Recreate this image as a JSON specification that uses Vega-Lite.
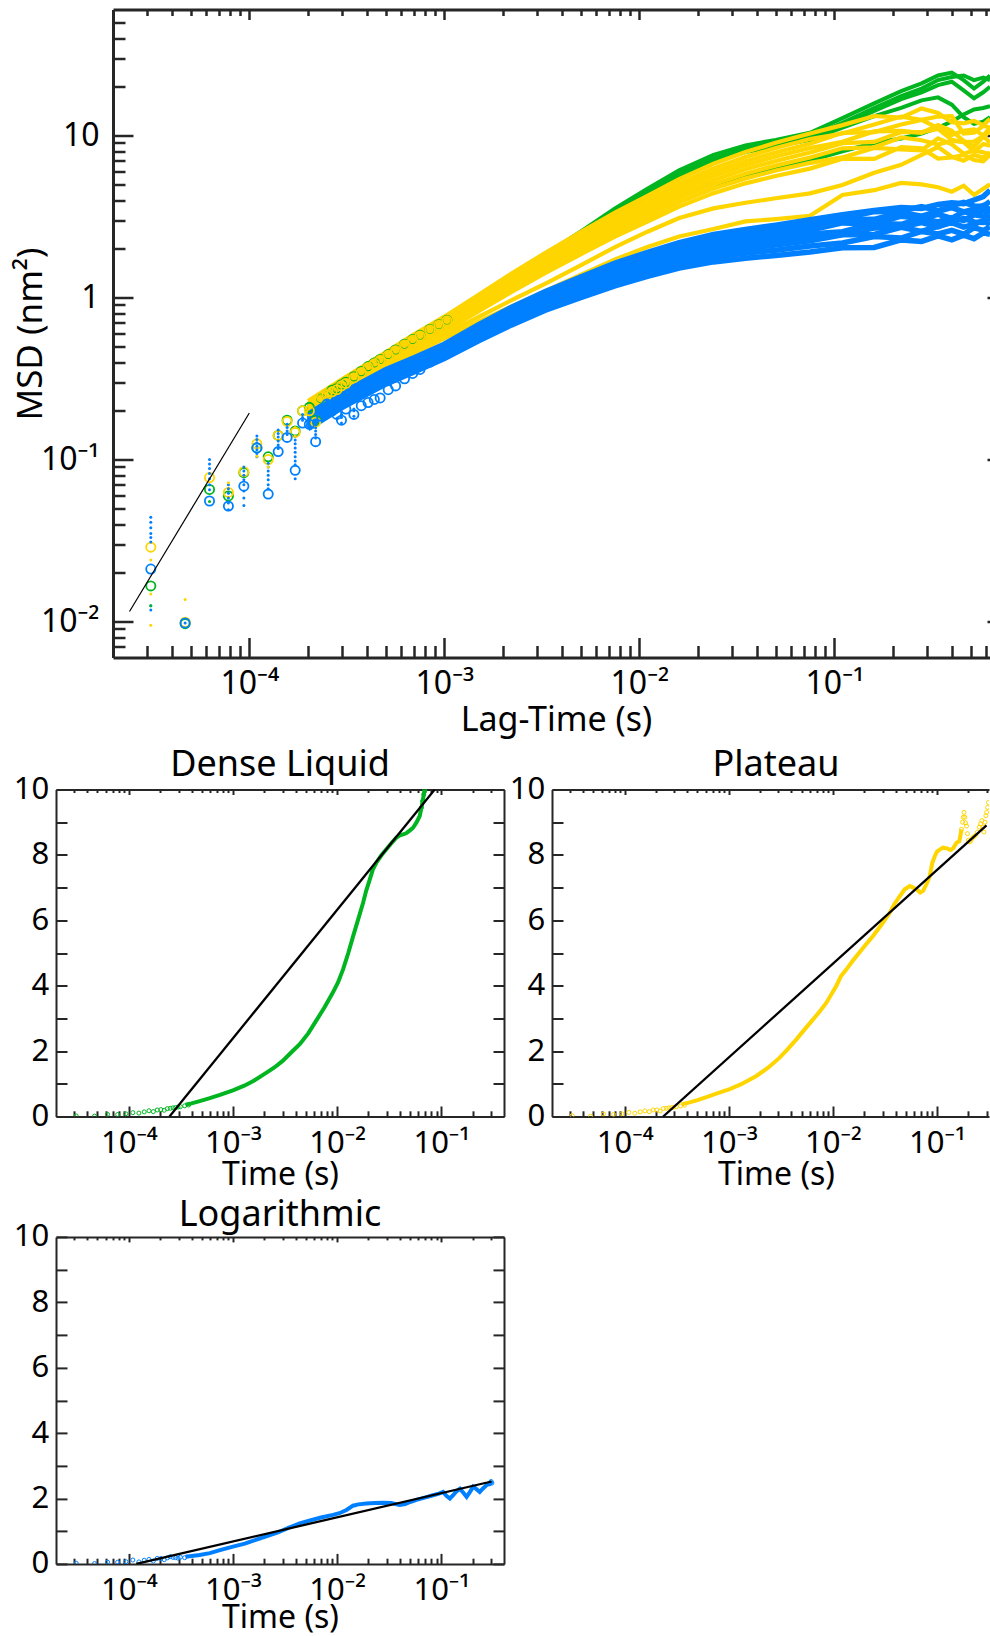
{
"$schema":"https://vega.github.io/schema/vega-lite/v6.json",
"padding":{"left":13,"top":7.5,"right":0,"bottom":0},
"background":"white",
"spacing":8,
"config":{"view":{"stroke":null},"font":"Noto Sans",
"axis":{"grid":false,"domainColor":"#262626","tickColor":"#262626","labelColor":"#000","titleColor":"#000","labelFont":"Noto Sans","titleFont":"Noto Sans","titleFontWeight":"normal","labelFlush":false,"labelOverlap":false},
"title":{"font":"Noto Sans","fontWeight":"normal","color":"#000"}},
"datasets":{
"tg":[
{"id":"g1","t":0.0002,"v":0.215},{"id":"g1","t":0.0003,"v":0.296},{"id":"g1","t":0.0005,"v":0.435},{"id":"g1","t":0.0007,"v":0.565},{"id":"g1","t":0.001,"v":0.73},{"id":"g1","t":0.0015,"v":1.0},{"id":"g1","t":0.0022,"v":1.36},{"id":"g1","t":0.0033,"v":1.85},{"id":"g1","t":0.005,"v":2.55},{"id":"g1","t":0.0075,"v":3.55},{"id":"g1","t":0.011,"v":4.7},{"id":"g1","t":0.016,"v":6.1},{"id":"g1","t":0.024,"v":7.6},{"id":"g1","t":0.035,"v":8.7},{"id":"g1","t":0.05,"v":9.4},{"id":"g1","t":0.075,"v":10.4},{"id":"g1","t":0.11,"v":12.8},{"id":"g1","t":0.16,"v":15.8},{"id":"g1","t":0.22,"v":18.8},{"id":"g1","t":0.28,"v":21.0},{"id":"g1","t":0.34,"v":23.5},{"id":"g1","t":0.4,"v":24.5},{"id":"g1","t":0.46,"v":22.0},{"id":"g1","t":0.52,"v":19.5},{"id":"g1","t":0.58,"v":21.5},{"id":"g1","t":0.628,"v":23.5},
{"id":"g2","t":0.0002,"v":0.21},{"id":"g2","t":0.0003,"v":0.29},{"id":"g2","t":0.0005,"v":0.425},{"id":"g2","t":0.0007,"v":0.55},{"id":"g2","t":0.001,"v":0.71},{"id":"g2","t":0.0015,"v":0.97},{"id":"g2","t":0.0022,"v":1.31},{"id":"g2","t":0.0033,"v":1.78},{"id":"g2","t":0.005,"v":2.45},{"id":"g2","t":0.0075,"v":3.4},{"id":"g2","t":0.011,"v":4.45},{"id":"g2","t":0.016,"v":5.8},{"id":"g2","t":0.024,"v":7.2},{"id":"g2","t":0.035,"v":8.3},{"id":"g2","t":0.05,"v":9.0},{"id":"g2","t":0.075,"v":9.9},{"id":"g2","t":0.11,"v":12.0},{"id":"g2","t":0.16,"v":14.8},{"id":"g2","t":0.22,"v":17.5},{"id":"g2","t":0.28,"v":19.5},{"id":"g2","t":0.34,"v":22.0},{"id":"g2","t":0.4,"v":23.0},{"id":"g2","t":0.46,"v":23.5},{"id":"g2","t":0.52,"v":22.0},{"id":"g2","t":0.58,"v":22.8},{"id":"g2","t":0.628,"v":22.0},
{"id":"g3","t":0.0002,"v":0.205},{"id":"g3","t":0.0003,"v":0.283},{"id":"g3","t":0.0005,"v":0.415},{"id":"g3","t":0.0007,"v":0.535},{"id":"g3","t":0.001,"v":0.69},{"id":"g3","t":0.0015,"v":0.94},{"id":"g3","t":0.0022,"v":1.27},{"id":"g3","t":0.0033,"v":1.72},{"id":"g3","t":0.005,"v":2.35},{"id":"g3","t":0.0075,"v":3.25},{"id":"g3","t":0.011,"v":4.25},{"id":"g3","t":0.016,"v":5.5},{"id":"g3","t":0.024,"v":6.85},{"id":"g3","t":0.035,"v":7.9},{"id":"g3","t":0.05,"v":8.6},{"id":"g3","t":0.075,"v":9.4},{"id":"g3","t":0.11,"v":11.2},{"id":"g3","t":0.16,"v":13.2},{"id":"g3","t":0.22,"v":14.8},{"id":"g3","t":0.28,"v":16.5},{"id":"g3","t":0.34,"v":17.2},{"id":"g3","t":0.4,"v":15.5},{"id":"g3","t":0.46,"v":13.0},{"id":"g3","t":0.52,"v":11.8},{"id":"g3","t":0.58,"v":12.2},{"id":"g3","t":0.628,"v":13.0},
{"id":"g4","t":0.0002,"v":0.2},{"id":"g4","t":0.0003,"v":0.275},{"id":"g4","t":0.0005,"v":0.4},{"id":"g4","t":0.0007,"v":0.515},{"id":"g4","t":0.001,"v":0.66},{"id":"g4","t":0.0015,"v":0.89},{"id":"g4","t":0.0022,"v":1.19},{"id":"g4","t":0.0033,"v":1.6},{"id":"g4","t":0.005,"v":2.13},{"id":"g4","t":0.0075,"v":2.75},{"id":"g4","t":0.011,"v":3.4},{"id":"g4","t":0.016,"v":4.3},{"id":"g4","t":0.024,"v":5.0},{"id":"g4","t":0.035,"v":5.6},{"id":"g4","t":0.05,"v":6.2},{"id":"g4","t":0.075,"v":7.0},{"id":"g4","t":0.11,"v":8.0},{"id":"g4","t":0.16,"v":9.0},{"id":"g4","t":0.22,"v":9.6},{"id":"g4","t":0.28,"v":10.3},{"id":"g4","t":0.34,"v":11.2},{"id":"g4","t":0.4,"v":12.2},{"id":"g4","t":0.46,"v":13.5},{"id":"g4","t":0.52,"v":14.5},{"id":"g4","t":0.58,"v":14.8},{"id":"g4","t":0.628,"v":15.2},
{"id":"g5","t":0.0002,"v":0.207},{"id":"g5","t":0.0003,"v":0.287},{"id":"g5","t":0.0005,"v":0.42},{"id":"g5","t":0.0007,"v":0.545},{"id":"g5","t":0.001,"v":0.70},{"id":"g5","t":0.0015,"v":0.955},{"id":"g5","t":0.0022,"v":1.29},{"id":"g5","t":0.0033,"v":1.75},{"id":"g5","t":0.005,"v":2.4},{"id":"g5","t":0.0075,"v":3.32},{"id":"g5","t":0.011,"v":4.35},{"id":"g5","t":0.016,"v":5.65},{"id":"g5","t":0.024,"v":7.0},{"id":"g5","t":0.035,"v":8.1},{"id":"g5","t":0.05,"v":8.8},{"id":"g5","t":0.075,"v":9.7},{"id":"g5","t":0.11,"v":11.6},{"id":"g5","t":0.16,"v":14.2},{"id":"g5","t":0.22,"v":16.8},{"id":"g5","t":0.28,"v":18.5},{"id":"g5","t":0.34,"v":20.5},{"id":"g5","t":0.4,"v":21.5},{"id":"g5","t":0.46,"v":19.0},{"id":"g5","t":0.52,"v":17.0},{"id":"g5","t":0.58,"v":18.5},{"id":"g5","t":0.628,"v":20.0}
],
"ty":[
{"id":"y1","t":0.0002,"v":0.23},{"id":"y1","t":0.0003,"v":0.314},{"id":"y1","t":0.0005,"v":0.459},{"id":"y1","t":0.0007,"v":0.594},{"id":"y1","t":0.001,"v":0.762},{"id":"y1","t":0.0015,"v":1.04},{"id":"y1","t":0.0022,"v":1.4},{"id":"y1","t":0.0033,"v":1.89},{"id":"y1","t":0.005,"v":2.54},{"id":"y1","t":0.0075,"v":3.35},{"id":"y1","t":0.011,"v":4.24},{"id":"y1","t":0.016,"v":5.39},{"id":"y1","t":0.024,"v":6.7},{"id":"y1","t":0.035,"v":7.91},{"id":"y1","t":0.05,"v":9.02},{"id":"y1","t":0.075,"v":10.3},{"id":"y1","t":0.11,"v":11.6},{"id":"y1","t":0.16,"v":13.2},{"id":"y1","t":0.22,"v":12.9},{"id":"y1","t":0.28,"v":14.7},{"id":"y1","t":0.34,"v":13.8},{"id":"y1","t":0.4,"v":12.1},{"id":"y1","t":0.46,"v":11.9},{"id":"y1","t":0.52,"v":12.3},{"id":"y1","t":0.58,"v":11.6},{"id":"y1","t":0.628,"v":12.7},
{"id":"y2","t":0.0002,"v":0.221},{"id":"y2","t":0.0003,"v":0.302},{"id":"y2","t":0.0005,"v":0.443},{"id":"y2","t":0.0007,"v":0.572},{"id":"y2","t":0.001,"v":0.734},{"id":"y2","t":0.0015,"v":1.0},{"id":"y2","t":0.0022,"v":1.34},{"id":"y2","t":0.0033,"v":1.8},{"id":"y2","t":0.005,"v":2.41},{"id":"y2","t":0.0075,"v":3.16},{"id":"y2","t":0.011,"v":3.99},{"id":"y2","t":0.016,"v":5.06},{"id":"y2","t":0.024,"v":6.26},{"id":"y2","t":0.035,"v":7.37},{"id":"y2","t":0.05,"v":8.38},{"id":"y2","t":0.075,"v":9.52},{"id":"y2","t":0.11,"v":10.3},{"id":"y2","t":0.16,"v":11.7},{"id":"y2","t":0.22,"v":13.1},{"id":"y2","t":0.28,"v":12.5},{"id":"y2","t":0.34,"v":13.1},{"id":"y2","t":0.4,"v":13.2},{"id":"y2","t":0.46,"v":10.3},{"id":"y2","t":0.52,"v":10.4},{"id":"y2","t":0.58,"v":11.5},{"id":"y2","t":0.628,"v":11.2},
{"id":"y3","t":0.0002,"v":0.215},{"id":"y3","t":0.0003,"v":0.293},{"id":"y3","t":0.0005,"v":0.43},{"id":"y3","t":0.0007,"v":0.555},{"id":"y3","t":0.001,"v":0.713},{"id":"y3","t":0.0015,"v":0.97},{"id":"y3","t":0.0022,"v":1.29},{"id":"y3","t":0.0033,"v":1.73},{"id":"y3","t":0.005,"v":2.3},{"id":"y3","t":0.0075,"v":3.02},{"id":"y3","t":0.011,"v":3.79},{"id":"y3","t":0.016,"v":4.8},{"id":"y3","t":0.024,"v":5.92},{"id":"y3","t":0.035,"v":6.94},{"id":"y3","t":0.05,"v":7.87},{"id":"y3","t":0.075,"v":8.91},{"id":"y3","t":0.11,"v":10.4},{"id":"y3","t":0.16,"v":10.5},{"id":"y3","t":0.22,"v":11.7},{"id":"y3","t":0.28,"v":12.5},{"id":"y3","t":0.34,"v":11.1},{"id":"y3","t":0.4,"v":10.1},{"id":"y3","t":0.46,"v":10.7},{"id":"y3","t":0.52,"v":10.9},{"id":"y3","t":0.58,"v":10.0},{"id":"y3","t":0.628,"v":11.2},
{"id":"y4","t":0.0002,"v":0.209},{"id":"y4","t":0.0003,"v":0.286},{"id":"y4","t":0.0005,"v":0.418},{"id":"y4","t":0.0007,"v":0.541},{"id":"y4","t":0.001,"v":0.694},{"id":"y4","t":0.0015,"v":0.941},{"id":"y4","t":0.0022,"v":1.25},{"id":"y4","t":0.0033,"v":1.66},{"id":"y4","t":0.005,"v":2.21},{"id":"y4","t":0.0075,"v":2.89},{"id":"y4","t":0.011,"v":3.62},{"id":"y4","t":0.016,"v":4.57},{"id":"y4","t":0.024,"v":5.62},{"id":"y4","t":0.035,"v":6.57},{"id":"y4","t":0.05,"v":7.42},{"id":"y4","t":0.075,"v":8.38},{"id":"y4","t":0.11,"v":9.16},{"id":"y4","t":0.16,"v":10.6},{"id":"y4","t":0.22,"v":10.7},{"id":"y4","t":0.28,"v":10.4},{"id":"y4","t":0.34,"v":11.6},{"id":"y4","t":0.4,"v":10.7},{"id":"y4","t":0.46,"v":9.28},{"id":"y4","t":0.52,"v":8.51},{"id":"y4","t":0.58,"v":9.85},{"id":"y4","t":0.628,"v":10.6},
{"id":"y5","t":0.0002,"v":0.203},{"id":"y5","t":0.0003,"v":0.278},{"id":"y5","t":0.0005,"v":0.407},{"id":"y5","t":0.0007,"v":0.526},{"id":"y5","t":0.001,"v":0.675},{"id":"y5","t":0.0015,"v":0.912},{"id":"y5","t":0.0022,"v":1.21},{"id":"y5","t":0.0033,"v":1.6},{"id":"y5","t":0.005,"v":2.12},{"id":"y5","t":0.0075,"v":2.76},{"id":"y5","t":0.011,"v":3.45},{"id":"y5","t":0.016,"v":4.33},{"id":"y5","t":0.024,"v":5.31},{"id":"y5","t":0.035,"v":6.19},{"id":"y5","t":0.05,"v":6.97},{"id":"y5","t":0.075,"v":7.85},{"id":"y5","t":0.11,"v":8.98},{"id":"y5","t":0.16,"v":9.13},{"id":"y5","t":0.22,"v":10.5},{"id":"y5","t":0.28,"v":10.5},{"id":"y5","t":0.34,"v":11.0},{"id":"y5","t":0.4,"v":9.41},{"id":"y5","t":0.46,"v":9.11},{"id":"y5","t":0.52,"v":9.17},{"id":"y5","t":0.58,"v":9.92},{"id":"y5","t":0.628,"v":9.03},
{"id":"y6","t":0.0002,"v":0.198},{"id":"y6","t":0.0003,"v":0.27},{"id":"y6","t":0.0005,"v":0.395},{"id":"y6","t":0.0007,"v":0.511},{"id":"y6","t":0.001,"v":0.656},{"id":"y6","t":0.0015,"v":0.883},{"id":"y6","t":0.0022,"v":1.17},{"id":"y6","t":0.0033,"v":1.54},{"id":"y6","t":0.005,"v":2.03},{"id":"y6","t":0.0075,"v":2.64},{"id":"y6","t":0.011,"v":3.28},{"id":"y6","t":0.016,"v":4.1},{"id":"y6","t":0.024,"v":5.01},{"id":"y6","t":0.035,"v":5.82},{"id":"y6","t":0.05,"v":6.52},{"id":"y6","t":0.075,"v":7.32},{"id":"y6","t":0.11,"v":8.34},{"id":"y6","t":0.16,"v":8.47},{"id":"y6","t":0.22,"v":9.74},{"id":"y6","t":0.28,"v":9.36},{"id":"y6","t":0.34,"v":8.8},{"id":"y6","t":0.4,"v":9.28},{"id":"y6","t":0.46,"v":9.14},{"id":"y6","t":0.52,"v":7.94},{"id":"y6","t":0.58,"v":8.87},{"id":"y6","t":0.628,"v":8.65},
{"id":"y7","t":0.0002,"v":0.192},{"id":"y7","t":0.0003,"v":0.262},{"id":"y7","t":0.0005,"v":0.384},{"id":"y7","t":0.0007,"v":0.496},{"id":"y7","t":0.001,"v":0.636},{"id":"y7","t":0.0015,"v":0.854},{"id":"y7","t":0.0022,"v":1.12},{"id":"y7","t":0.0033,"v":1.48},{"id":"y7","t":0.005,"v":1.94},{"id":"y7","t":0.0075,"v":2.51},{"id":"y7","t":0.011,"v":3.11},{"id":"y7","t":0.016,"v":3.87},{"id":"y7","t":0.024,"v":4.71},{"id":"y7","t":0.035,"v":5.44},{"id":"y7","t":0.05,"v":6.08},{"id":"y7","t":0.075,"v":6.78},{"id":"y7","t":0.11,"v":7.33},{"id":"y7","t":0.16,"v":8.39},{"id":"y7","t":0.22,"v":8.22},{"id":"y7","t":0.28,"v":8.11},{"id":"y7","t":0.34,"v":9.61},{"id":"y7","t":0.4,"v":8.82},{"id":"y7","t":0.46,"v":7.73},{"id":"y7","t":0.52,"v":8.09},{"id":"y7","t":0.58,"v":7.88},{"id":"y7","t":0.628,"v":7.66},
{"id":"y8","t":0.0002,"v":0.186},{"id":"y8","t":0.0003,"v":0.254},{"id":"y8","t":0.0005,"v":0.372},{"id":"y8","t":0.0007,"v":0.481},{"id":"y8","t":0.001,"v":0.617},{"id":"y8","t":0.0015,"v":0.825},{"id":"y8","t":0.0022,"v":1.08},{"id":"y8","t":0.0033,"v":1.42},{"id":"y8","t":0.005,"v":1.85},{"id":"y8","t":0.0075,"v":2.38},{"id":"y8","t":0.011,"v":2.94},{"id":"y8","t":0.016,"v":3.64},{"id":"y8","t":0.024,"v":4.41},{"id":"y8","t":0.035,"v":5.07},{"id":"y8","t":0.05,"v":5.63},{"id":"y8","t":0.075,"v":6.25},{"id":"y8","t":0.11,"v":7.2},{"id":"y8","t":0.16,"v":7.17},{"id":"y8","t":0.22,"v":8.48},{"id":"y8","t":0.28,"v":8.33},{"id":"y8","t":0.34,"v":7.21},{"id":"y8","t":0.4,"v":7.32},{"id":"y8","t":0.46,"v":7.59},{"id":"y8","t":0.52,"v":7.07},{"id":"y8","t":0.58,"v":6.94},{"id":"y8","t":0.628,"v":7.61},
{"id":"yA","t":0.0002,"v":0.19},{"id":"yA","t":0.0003,"v":0.26},{"id":"yA","t":0.0005,"v":0.375},{"id":"yA","t":0.0007,"v":0.47},{"id":"yA","t":0.001,"v":0.59},{"id":"yA","t":0.0015,"v":0.76},{"id":"yA","t":0.0022,"v":0.96},{"id":"yA","t":0.0033,"v":1.22},{"id":"yA","t":0.005,"v":1.58},{"id":"yA","t":0.0075,"v":2.05},{"id":"yA","t":0.011,"v":2.55},{"id":"yA","t":0.016,"v":3.1},{"id":"yA","t":0.024,"v":3.55},{"id":"yA","t":0.035,"v":3.85},{"id":"yA","t":0.05,"v":4.1},{"id":"yA","t":0.075,"v":4.4},{"id":"yA","t":0.11,"v":4.95},{"id":"yA","t":0.16,"v":5.9},{"id":"yA","t":0.22,"v":6.6},{"id":"yA","t":0.28,"v":7.6},{"id":"yA","t":0.34,"v":8.5},{"id":"yA","t":0.4,"v":7.4},{"id":"yA","t":0.46,"v":7.0},{"id":"yA","t":0.52,"v":7.6},{"id":"yA","t":0.58,"v":7.3},{"id":"yA","t":0.628,"v":7.9},
{"id":"yB","t":0.0002,"v":0.185},{"id":"yB","t":0.0003,"v":0.25},{"id":"yB","t":0.0005,"v":0.36},{"id":"yB","t":0.0007,"v":0.45},{"id":"yB","t":0.001,"v":0.56},{"id":"yB","t":0.0015,"v":0.71},{"id":"yB","t":0.0022,"v":0.88},{"id":"yB","t":0.0033,"v":1.1},{"id":"yB","t":0.005,"v":1.38},{"id":"yB","t":0.0075,"v":1.72},{"id":"yB","t":0.011,"v":2.05},{"id":"yB","t":0.016,"v":2.38},{"id":"yB","t":0.024,"v":2.65},{"id":"yB","t":0.035,"v":2.95},{"id":"yB","t":0.05,"v":3.05},{"id":"yB","t":0.075,"v":3.2},{"id":"yB","t":0.11,"v":4.3},{"id":"yB","t":0.16,"v":4.6},{"id":"yB","t":0.22,"v":5.1},{"id":"yB","t":0.28,"v":5.0},{"id":"yB","t":0.34,"v":4.8},{"id":"yB","t":0.4,"v":4.5},{"id":"yB","t":0.46,"v":4.9},{"id":"yB","t":0.52,"v":4.3},{"id":"yB","t":0.58,"v":4.7},{"id":"yB","t":0.628,"v":5.0}
],
"tb":[
{"id":"b1","t":0.0002,"v":0.155},{"id":"b1","t":0.0003,"v":0.21},{"id":"b1","t":0.0005,"v":0.292},{"id":"b1","t":0.0007,"v":0.347},{"id":"b1","t":0.001,"v":0.42},{"id":"b1","t":0.0015,"v":0.541},{"id":"b1","t":0.0022,"v":0.676},{"id":"b1","t":0.0033,"v":0.835},{"id":"b1","t":0.005,"v":0.998},{"id":"b1","t":0.0075,"v":1.18},{"id":"b1","t":0.011,"v":1.35},{"id":"b1","t":0.016,"v":1.52},{"id":"b1","t":0.024,"v":1.66},{"id":"b1","t":0.035,"v":1.75},{"id":"b1","t":0.05,"v":1.82},{"id":"b1","t":0.075,"v":1.91},{"id":"b1","t":0.11,"v":2.03},{"id":"b1","t":0.16,"v":2.04},{"id":"b1","t":0.22,"v":2.27},{"id":"b1","t":0.28,"v":2.22},{"id":"b1","t":0.34,"v":2.4},{"id":"b1","t":0.4,"v":2.27},{"id":"b1","t":0.46,"v":2.43},{"id":"b1","t":0.52,"v":2.31},{"id":"b1","t":0.58,"v":2.51},{"id":"b1","t":0.628,"v":2.46},
{"id":"b2","t":0.0002,"v":0.16},{"id":"b2","t":0.0003,"v":0.216},{"id":"b2","t":0.0005,"v":0.301},{"id":"b2","t":0.0007,"v":0.357},{"id":"b2","t":0.001,"v":0.432},{"id":"b2","t":0.0015,"v":0.56},{"id":"b2","t":0.0022,"v":0.703},{"id":"b2","t":0.0033,"v":0.872},{"id":"b2","t":0.005,"v":1.05},{"id":"b2","t":0.0075,"v":1.25},{"id":"b2","t":0.011,"v":1.43},{"id":"b2","t":0.016,"v":1.62},{"id":"b2","t":0.024,"v":1.78},{"id":"b2","t":0.035,"v":1.88},{"id":"b2","t":0.05,"v":1.96},{"id":"b2","t":0.075,"v":2.08},{"id":"b2","t":0.11,"v":2.17},{"id":"b2","t":0.16,"v":2.38},{"id":"b2","t":0.22,"v":2.33},{"id":"b2","t":0.28,"v":2.56},{"id":"b2","t":0.34,"v":2.47},{"id":"b2","t":0.4,"v":2.6},{"id":"b2","t":0.46,"v":2.46},{"id":"b2","t":0.52,"v":2.7},{"id":"b2","t":0.58,"v":2.6},{"id":"b2","t":0.628,"v":2.73},
{"id":"b3","t":0.0002,"v":0.165},{"id":"b3","t":0.0003,"v":0.223},{"id":"b3","t":0.0005,"v":0.31},{"id":"b3","t":0.0007,"v":0.368},{"id":"b3","t":0.001,"v":0.445},{"id":"b3","t":0.0015,"v":0.578},{"id":"b3","t":0.0022,"v":0.73},{"id":"b3","t":0.0033,"v":0.908},{"id":"b3","t":0.005,"v":1.09},{"id":"b3","t":0.0075,"v":1.31},{"id":"b3","t":0.011,"v":1.51},{"id":"b3","t":0.016,"v":1.71},{"id":"b3","t":0.024,"v":1.89},{"id":"b3","t":0.035,"v":2.0},{"id":"b3","t":0.05,"v":2.11},{"id":"b3","t":0.075,"v":2.24},{"id":"b3","t":0.11,"v":2.44},{"id":"b3","t":0.16,"v":2.45},{"id":"b3","t":0.22,"v":2.71},{"id":"b3","t":0.28,"v":2.56},{"id":"b3","t":0.34,"v":2.75},{"id":"b3","t":0.4,"v":2.9},{"id":"b3","t":0.46,"v":2.72},{"id":"b3","t":0.52,"v":2.83},{"id":"b3","t":0.58,"v":2.99},{"id":"b3","t":0.628,"v":2.81},
{"id":"b4","t":0.0002,"v":0.168},{"id":"b4","t":0.0003,"v":0.227},{"id":"b4","t":0.0005,"v":0.316},{"id":"b4","t":0.0007,"v":0.375},{"id":"b4","t":0.001,"v":0.454},{"id":"b4","t":0.0015,"v":0.592},{"id":"b4","t":0.0022,"v":0.749},{"id":"b4","t":0.0033,"v":0.934},{"id":"b4","t":0.005,"v":1.13},{"id":"b4","t":0.0075,"v":1.35},{"id":"b4","t":0.011,"v":1.57},{"id":"b4","t":0.016,"v":1.78},{"id":"b4","t":0.024,"v":1.97},{"id":"b4","t":0.035,"v":2.1},{"id":"b4","t":0.05,"v":2.21},{"id":"b4","t":0.075,"v":2.35},{"id":"b4","t":0.11,"v":2.45},{"id":"b4","t":0.16,"v":2.69},{"id":"b4","t":0.22,"v":2.72},{"id":"b4","t":0.28,"v":2.9},{"id":"b4","t":0.34,"v":2.73},{"id":"b4","t":0.4,"v":2.94},{"id":"b4","t":0.46,"v":3.08},{"id":"b4","t":0.52,"v":2.93},{"id":"b4","t":0.58,"v":2.91},{"id":"b4","t":0.628,"v":3.12},
{"id":"b5","t":0.0002,"v":0.171},{"id":"b5","t":0.0003,"v":0.232},{"id":"b5","t":0.0005,"v":0.323},{"id":"b5","t":0.0007,"v":0.383},{"id":"b5","t":0.001,"v":0.464},{"id":"b5","t":0.0015,"v":0.605},{"id":"b5","t":0.0022,"v":0.768},{"id":"b5","t":0.0033,"v":0.96},{"id":"b5","t":0.005,"v":1.16},{"id":"b5","t":0.0075,"v":1.4},{"id":"b5","t":0.011,"v":1.62},{"id":"b5","t":0.016,"v":1.85},{"id":"b5","t":0.024,"v":2.05},{"id":"b5","t":0.035,"v":2.19},{"id":"b5","t":0.05,"v":2.31},{"id":"b5","t":0.075,"v":2.47},{"id":"b5","t":0.11,"v":2.55},{"id":"b5","t":0.16,"v":2.86},{"id":"b5","t":0.22,"v":2.83},{"id":"b5","t":0.28,"v":3.08},{"id":"b5","t":0.34,"v":2.93},{"id":"b5","t":0.4,"v":3.12},{"id":"b5","t":0.46,"v":2.99},{"id":"b5","t":0.52,"v":3.24},{"id":"b5","t":0.58,"v":3.18},{"id":"b5","t":0.628,"v":3.21},
{"id":"b6","t":0.0002,"v":0.175},{"id":"b6","t":0.0003,"v":0.237},{"id":"b6","t":0.0005,"v":0.33},{"id":"b6","t":0.0007,"v":0.392},{"id":"b6","t":0.001,"v":0.475},{"id":"b6","t":0.0015,"v":0.622},{"id":"b6","t":0.0022,"v":0.79},{"id":"b6","t":0.0033,"v":0.992},{"id":"b6","t":0.005,"v":1.21},{"id":"b6","t":0.0075,"v":1.45},{"id":"b6","t":0.011,"v":1.69},{"id":"b6","t":0.016,"v":1.93},{"id":"b6","t":0.024,"v":2.15},{"id":"b6","t":0.035,"v":2.3},{"id":"b6","t":0.05,"v":2.43},{"id":"b6","t":0.075,"v":2.6},{"id":"b6","t":0.11,"v":2.89},{"id":"b6","t":0.16,"v":2.85},{"id":"b6","t":0.22,"v":3.18},{"id":"b6","t":0.28,"v":3.07},{"id":"b6","t":0.34,"v":3.26},{"id":"b6","t":0.4,"v":3.08},{"id":"b6","t":0.46,"v":3.39},{"id":"b6","t":0.52,"v":3.26},{"id":"b6","t":0.58,"v":3.44},{"id":"b6","t":0.628,"v":3.33},
{"id":"b7","t":0.0002,"v":0.18},{"id":"b7","t":0.0003,"v":0.243},{"id":"b7","t":0.0005,"v":0.338},{"id":"b7","t":0.0007,"v":0.401},{"id":"b7","t":0.001,"v":0.486},{"id":"b7","t":0.0015,"v":0.638},{"id":"b7","t":0.0022,"v":0.813},{"id":"b7","t":0.0033,"v":1.02},{"id":"b7","t":0.005,"v":1.25},{"id":"b7","t":0.0075,"v":1.51},{"id":"b7","t":0.011,"v":1.76},{"id":"b7","t":0.016,"v":2.01},{"id":"b7","t":0.024,"v":2.25},{"id":"b7","t":0.035,"v":2.41},{"id":"b7","t":0.05,"v":2.56},{"id":"b7","t":0.075,"v":2.74},{"id":"b7","t":0.11,"v":3.02},{"id":"b7","t":0.16,"v":3.04},{"id":"b7","t":0.22,"v":3.36},{"id":"b7","t":0.28,"v":3.18},{"id":"b7","t":0.34,"v":3.4},{"id":"b7","t":0.4,"v":3.59},{"id":"b7","t":0.46,"v":3.38},{"id":"b7","t":0.52,"v":3.51},{"id":"b7","t":0.58,"v":3.7},{"id":"b7","t":0.628,"v":3.48},
{"id":"b8","t":0.0002,"v":0.185},{"id":"b8","t":0.0003,"v":0.25},{"id":"b8","t":0.0005,"v":0.348},{"id":"b8","t":0.0007,"v":0.413},{"id":"b8","t":0.001,"v":0.5},{"id":"b8","t":0.0015,"v":0.659},{"id":"b8","t":0.0022,"v":0.844},{"id":"b8","t":0.0033,"v":1.06},{"id":"b8","t":0.005,"v":1.3},{"id":"b8","t":0.0075,"v":1.58},{"id":"b8","t":0.011,"v":1.85},{"id":"b8","t":0.016,"v":2.12},{"id":"b8","t":0.024,"v":2.38},{"id":"b8","t":0.035,"v":2.55},{"id":"b8","t":0.05,"v":2.72},{"id":"b8","t":0.075,"v":2.93},{"id":"b8","t":0.11,"v":3.08},{"id":"b8","t":0.16,"v":3.39},{"id":"b8","t":0.22,"v":3.42},{"id":"b8","t":0.28,"v":3.65},{"id":"b8","t":0.34,"v":3.43},{"id":"b8","t":0.4,"v":3.7},{"id":"b8","t":0.46,"v":3.87},{"id":"b8","t":0.52,"v":3.68},{"id":"b8","t":0.58,"v":3.66},{"id":"b8","t":0.628,"v":3.92},
{"id":"b9","t":0.0002,"v":0.19},{"id":"b9","t":0.0003,"v":0.258},{"id":"b9","t":0.0005,"v":0.358},{"id":"b9","t":0.0007,"v":0.425},{"id":"b9","t":0.001,"v":0.515},{"id":"b9","t":0.0015,"v":0.68},{"id":"b9","t":0.0022,"v":0.87},{"id":"b9","t":0.0033,"v":1.09},{"id":"b9","t":0.005,"v":1.34},{"id":"b9","t":0.0075,"v":1.63},{"id":"b9","t":0.011,"v":1.9},{"id":"b9","t":0.016,"v":2.18},{"id":"b9","t":0.024,"v":2.45},{"id":"b9","t":0.035,"v":2.63},{"id":"b9","t":0.05,"v":2.8},{"id":"b9","t":0.075,"v":3.02},{"id":"b9","t":0.11,"v":3.25},{"id":"b9","t":0.16,"v":3.45},{"id":"b9","t":0.22,"v":3.6},{"id":"b9","t":0.28,"v":3.55},{"id":"b9","t":0.34,"v":3.75},{"id":"b9","t":0.4,"v":3.85},{"id":"b9","t":0.46,"v":3.8},{"id":"b9","t":0.52,"v":4.0},{"id":"b9","t":0.58,"v":4.2},{"id":"b9","t":0.628,"v":4.6}
],
"tc":[
{"grp":"g","t":0.00003125,"v":0.0166},{"grp":"g","t":0.000046875,"v":0.0097},{"grp":"g","t":0.0000625,"v":0.0654},{"grp":"g","t":0.000078125,"v":0.0596},{"grp":"g","t":0.00009375,"v":0.083},{"grp":"g","t":0.000109375,"v":0.118},{"grp":"g","t":0.000125,"v":0.104},{"grp":"g","t":0.000140625,"v":0.141},{"grp":"g","t":0.00015625,"v":0.175},{"grp":"g","t":0.000171875,"v":0.15},{"grp":"g","t":0.0001875,"v":0.2},{"grp":"g","t":0.000203125,"v":0.21},{"grp":"g","t":0.00021875,"v":0.175},{"grp":"g","t":0.000234375,"v":0.24},{"grp":"g","t":0.00025,"v":0.25},{"grp":"g","t":0.000265625,"v":0.268},{"grp":"g","t":0.00028125,"v":0.275},{"grp":"g","t":0.000296875,"v":0.29},{"grp":"g","t":0.0003125,"v":0.3},{"grp":"g","t":0.00034375,"v":0.325},{"grp":"g","t":0.000375,"v":0.35},{"grp":"g","t":0.00040625,"v":0.375},{"grp":"g","t":0.0004375,"v":0.395},{"grp":"g","t":0.00046875,"v":0.415},{"grp":"g","t":0.00051563,"v":0.445},{"grp":"g","t":0.0005625,"v":0.475},{"grp":"g","t":0.000625,"v":0.515},{"grp":"g","t":0.0006875,"v":0.55},{"grp":"g","t":0.00075,"v":0.585},{"grp":"g","t":0.00084375,"v":0.635},{"grp":"g","t":0.0009375,"v":0.68},{"grp":"g","t":0.00103125,"v":0.725},
{"grp":"y","t":0.00003125,"v":0.0288},{"grp":"y","t":0.000046875,"v":0.0099},{"grp":"y","t":0.0000625,"v":0.0774},{"grp":"y","t":0.000078125,"v":0.0627},{"grp":"y","t":0.00009375,"v":0.0842},{"grp":"y","t":0.000109375,"v":0.125},{"grp":"y","t":0.000125,"v":0.1},{"grp":"y","t":0.000140625,"v":0.141},{"grp":"y","t":0.00015625,"v":0.172},{"grp":"y","t":0.000171875,"v":0.147},{"grp":"y","t":0.0001875,"v":0.2},{"grp":"y","t":0.000203125,"v":0.2},{"grp":"y","t":0.00021875,"v":0.17},{"grp":"y","t":0.000234375,"v":0.243},{"grp":"y","t":0.00025,"v":0.25},{"grp":"y","t":0.000265625,"v":0.262},{"grp":"y","t":0.00028125,"v":0.27},{"grp":"y","t":0.000296875,"v":0.285},{"grp":"y","t":0.0003125,"v":0.295},{"grp":"y","t":0.00034375,"v":0.32},{"grp":"y","t":0.000375,"v":0.345},{"grp":"y","t":0.00040625,"v":0.37},{"grp":"y","t":0.0004375,"v":0.39},{"grp":"y","t":0.00046875,"v":0.41},{"grp":"y","t":0.00051563,"v":0.44},{"grp":"y","t":0.0005625,"v":0.47},{"grp":"y","t":0.000625,"v":0.51},{"grp":"y","t":0.0006875,"v":0.545},{"grp":"y","t":0.00075,"v":0.58},{"grp":"y","t":0.00084375,"v":0.63},{"grp":"y","t":0.0009375,"v":0.675},{"grp":"y","t":0.00103125,"v":0.72},
{"grp":"b","t":0.00003125,"v":0.0211},{"grp":"b","t":0.000046875,"v":0.0098},{"grp":"b","t":0.0000625,"v":0.0555},{"grp":"b","t":0.000078125,"v":0.0516},{"grp":"b","t":0.00009375,"v":0.0685},{"grp":"b","t":0.000109375,"v":0.118},{"grp":"b","t":0.000125,"v":0.0612},{"grp":"b","t":0.000140625,"v":0.112},{"grp":"b","t":0.00015625,"v":0.137},{"grp":"b","t":0.000171875,"v":0.0858},{"grp":"b","t":0.0001875,"v":0.168},{"grp":"b","t":0.000203125,"v":0.165},{"grp":"b","t":0.00021875,"v":0.129},{"grp":"b","t":0.000234375,"v":0.185},{"grp":"b","t":0.00025,"v":0.22},{"grp":"b","t":0.000265625,"v":0.2},{"grp":"b","t":0.00028125,"v":0.19},{"grp":"b","t":0.000296875,"v":0.175},{"grp":"b","t":0.0003125,"v":0.205},{"grp":"b","t":0.00034375,"v":0.19},{"grp":"b","t":0.000375,"v":0.215},{"grp":"b","t":0.00040625,"v":0.225},{"grp":"b","t":0.0004375,"v":0.235},{"grp":"b","t":0.00046875,"v":0.24},{"grp":"b","t":0.00051563,"v":0.27},{"grp":"b","t":0.0005625,"v":0.285},{"grp":"b","t":0.000625,"v":0.315},{"grp":"b","t":0.0006875,"v":0.34},{"grp":"b","t":0.00075,"v":0.36},{"grp":"b","t":0.00084375,"v":0.4},{"grp":"b","t":0.0009375,"v":0.43},{"grp":"b","t":0.00103125,"v":0.455}
],
"td":[
{"grp":"b","t":0.00003125,"v":0.044},{"grp":"b","t":0.00003125,"v":0.041},{"grp":"b","t":0.00003125,"v":0.038},{"grp":"b","t":0.00003125,"v":0.035},{"grp":"b","t":0.00003125,"v":0.033},{"grp":"b","t":0.00003125,"v":0.031},{"grp":"b","t":0.00003125,"v":0.0125},{"grp":"b","t":0.00003125,"v":0.0118},{"grp":"y","t":0.00003125,"v":0.024},{"grp":"y","t":0.00003125,"v":0.0148},{"grp":"y","t":0.00003125,"v":0.0095},{"grp":"g","t":0.00003125,"v":0.0125},
{"grp":"y","t":0.000046875,"v":0.0137},{"grp":"b","t":0.000046875,"v":0.0098},
{"grp":"b","t":0.0000625,"v":0.1},{"grp":"b","t":0.0000625,"v":0.094},{"grp":"b","t":0.0000625,"v":0.088},{"grp":"b","t":0.0000625,"v":0.082},{"grp":"b","t":0.0000625,"v":0.076},{"grp":"b","t":0.0000625,"v":0.07},{"grp":"b","t":0.0000625,"v":0.065},{"grp":"g","t":0.0000625,"v":0.055},
{"grp":"b","t":0.000078125,"v":0.07},{"grp":"b","t":0.000078125,"v":0.066},{"grp":"b","t":0.000078125,"v":0.062},{"grp":"b","t":0.000078125,"v":0.058},{"grp":"b","t":0.000078125,"v":0.054},{"grp":"b","t":0.000078125,"v":0.049},{"grp":"y","t":0.000078125,"v":0.072},
{"grp":"b","t":0.00009375,"v":0.09},{"grp":"b","t":0.00009375,"v":0.085},{"grp":"b","t":0.00009375,"v":0.08},{"grp":"b","t":0.00009375,"v":0.075},{"grp":"b","t":0.00009375,"v":0.07},{"grp":"b","t":0.00009375,"v":0.064},{"grp":"b","t":0.00009375,"v":0.058},{"grp":"b","t":0.00009375,"v":0.052},
{"grp":"b","t":0.000109375,"v":0.14},{"grp":"b","t":0.000109375,"v":0.133},{"grp":"b","t":0.000109375,"v":0.127},{"grp":"b","t":0.000109375,"v":0.121},{"grp":"b","t":0.000109375,"v":0.115},{"grp":"b","t":0.000109375,"v":0.109},{"grp":"b","t":0.000109375,"v":0.104},{"grp":"y","t":0.000109375,"v":0.105},
{"grp":"b","t":0.000125,"v":0.095},{"grp":"b","t":0.000125,"v":0.09},{"grp":"b","t":0.000125,"v":0.085},{"grp":"b","t":0.000125,"v":0.08},{"grp":"b","t":0.000125,"v":0.075},{"grp":"b","t":0.000125,"v":0.07},{"grp":"b","t":0.000125,"v":0.066},{"grp":"y","t":0.000125,"v":0.09},
{"grp":"b","t":0.000140625,"v":0.152},{"grp":"b","t":0.000140625,"v":0.145},{"grp":"b","t":0.000140625,"v":0.138},{"grp":"b","t":0.000140625,"v":0.13},{"grp":"b","t":0.000140625,"v":0.123},{"grp":"b","t":0.000140625,"v":0.117},
{"grp":"b","t":0.00015625,"v":0.165},{"grp":"b","t":0.00015625,"v":0.158},{"grp":"b","t":0.00015625,"v":0.15},{"grp":"b","t":0.00015625,"v":0.143},
{"grp":"b","t":0.000171875,"v":0.14},{"grp":"b","t":0.000171875,"v":0.132},{"grp":"b","t":0.000171875,"v":0.125},{"grp":"b","t":0.000171875,"v":0.118},{"grp":"b","t":0.000171875,"v":0.111},{"grp":"b","t":0.000171875,"v":0.104},{"grp":"b","t":0.000171875,"v":0.098},{"grp":"b","t":0.000171875,"v":0.093},{"grp":"b","t":0.000171875,"v":0.076},{"grp":"y","t":0.000171875,"v":0.158},{"grp":"y","t":0.000171875,"v":0.14},
{"grp":"b","t":0.0001875,"v":0.19},{"grp":"b","t":0.0001875,"v":0.182},{"grp":"b","t":0.0001875,"v":0.175},
{"grp":"b","t":0.000203125,"v":0.18},{"grp":"b","t":0.000203125,"v":0.172},
{"grp":"b","t":0.00021875,"v":0.165},{"grp":"b","t":0.00021875,"v":0.157},{"grp":"b","t":0.00021875,"v":0.15},{"grp":"b","t":0.00021875,"v":0.143},{"grp":"b","t":0.00021875,"v":0.136},
{"grp":"b","t":0.000234375,"v":0.2},{"grp":"b","t":0.000234375,"v":0.195},
{"grp":"b","t":0.00025,"v":0.21},{"grp":"b","t":0.00025,"v":0.205},{"grp":"b","t":0.00025,"v":0.23},
{"grp":"b","t":0.000265625,"v":0.21},{"grp":"b","t":0.000265625,"v":0.19},
{"grp":"b","t":0.00028125,"v":0.2},{"grp":"b","t":0.00028125,"v":0.18},
{"grp":"b","t":0.000296875,"v":0.19},{"grp":"b","t":0.000296875,"v":0.182},{"grp":"b","t":0.000296875,"v":0.168},
{"grp":"b","t":0.0003125,"v":0.215},
{"grp":"b","t":0.00034375,"v":0.2},{"grp":"b","t":0.00034375,"v":0.185},{"grp":"b","t":0.00034375,"v":0.205}
],
"tr":[{"t":0.0000243,"v":0.01153},{"t":0.0001,"v":0.194}],
"dl":[
{"t":0.00035,"v":0.36},{"t":0.0004,"v":0.4},{"t":0.00048,"v":0.47},{"t":0.0006,"v":0.56},{"t":0.00075,"v":0.66},{"t":0.001,"v":0.8},{"t":0.0013,"v":0.95},{"t":0.0016,"v":1.1},{"t":0.0021,"v":1.34},{"t":0.0025,"v":1.5},{"t":0.003,"v":1.7},{"t":0.0036,"v":1.95},{"t":0.0044,"v":2.22},{"t":0.0053,"v":2.55},{"t":0.0063,"v":2.93},{"t":0.0076,"v":3.35},{"t":0.0091,"v":3.79},{"t":0.0102,"v":4.1},{"t":0.0114,"v":4.5},{"t":0.0128,"v":5.0},{"t":0.0142,"v":5.5},{"t":0.016,"v":6.05},{"t":0.0177,"v":6.52},{"t":0.019,"v":6.9},{"t":0.0206,"v":7.25},{"t":0.022,"v":7.55},{"t":0.0238,"v":7.76},{"t":0.0265,"v":7.98},{"t":0.0297,"v":8.17},{"t":0.033,"v":8.35},{"t":0.0371,"v":8.53},{"t":0.04,"v":8.6},{"t":0.043,"v":8.63},{"t":0.046,"v":8.66},{"t":0.05,"v":8.75},{"t":0.0536,"v":8.83},{"t":0.058,"v":9.0},{"t":0.0621,"v":9.19},{"t":0.065,"v":9.5},{"t":0.068,"v":9.85},{"t":0.071,"v":10.2}
],
"de":[
{"t":0.00003125,"v":0.017},{"t":0.000046875,"v":0.01},{"t":0.0000625,"v":0.065},{"t":0.000078125,"v":0.06},{"t":0.00009375,"v":0.083},{"t":0.000109375,"v":0.118},{"t":0.000125,"v":0.104},{"t":0.000140625,"v":0.141},{"t":0.00015625,"v":0.175},{"t":0.000171875,"v":0.15},{"t":0.0001875,"v":0.2},{"t":0.000203125,"v":0.21},{"t":0.00021875,"v":0.19},{"t":0.000234375,"v":0.24},{"t":0.00025,"v":0.25},{"t":0.000265625,"v":0.265},{"t":0.00028125,"v":0.275},{"t":0.000296875,"v":0.29},{"t":0.0003125,"v":0.3},{"t":0.00034375,"v":0.325},{"t":0.000375,"v":0.35}
],
"dz":[{"t":0.0645,"v":9.45},{"t":0.0662,"v":9.65},{"t":0.0678,"v":9.85},{"t":0.0693,"v":9.98}],
"df":[{"t":0.000246,"v":0},{"t":0.0865,"v":10}],
"pl":[
{"t":0.00035,"v":0.37},{"t":0.00042,"v":0.43},{"t":0.0005,"v":0.5},{"t":0.00062,"v":0.6},{"t":0.00077,"v":0.71},{"t":0.00102,"v":0.84},{"t":0.0013,"v":0.98},{"t":0.00184,"v":1.24},{"t":0.0024,"v":1.5},{"t":0.00308,"v":1.8},{"t":0.0037,"v":2.07},{"t":0.00446,"v":2.36},{"t":0.0054,"v":2.68},{"t":0.00645,"v":2.97},{"t":0.0075,"v":3.22},{"t":0.00866,"v":3.48},{"t":0.0108,"v":4.0},{"t":0.012,"v":4.3},{"t":0.0135,"v":4.5},{"t":0.015,"v":4.7},{"t":0.0168,"v":4.9},{"t":0.02,"v":5.2},{"t":0.0243,"v":5.52},{"t":0.029,"v":5.85},{"t":0.0352,"v":6.23},{"t":0.039,"v":6.5},{"t":0.0439,"v":6.74},{"t":0.049,"v":6.95},{"t":0.0548,"v":7.05},{"t":0.059,"v":7.0},{"t":0.0635,"v":6.95},{"t":0.069,"v":6.85},{"t":0.0735,"v":6.9},{"t":0.079,"v":7.1},{"t":0.0853,"v":7.35},{"t":0.09,"v":7.75},{"t":0.0952,"v":7.96},{"t":0.1,"v":8.1},{"t":0.107,"v":8.17},{"t":0.114,"v":8.22},{"t":0.125,"v":8.2},{"t":0.135,"v":8.15},{"t":0.143,"v":8.2},{"t":0.154,"v":8.37},{"t":0.164,"v":8.42},{"t":0.172,"v":8.78}
],
"pe":[
{"t":0.00003125,"v":0.029},{"t":0.000046875,"v":0.01},{"t":0.0000625,"v":0.077},{"t":0.000078125,"v":0.063},{"t":0.00009375,"v":0.084},{"t":0.000109375,"v":0.125},{"t":0.000125,"v":0.1},{"t":0.000140625,"v":0.141},{"t":0.00015625,"v":0.172},{"t":0.000171875,"v":0.147},{"t":0.0001875,"v":0.2},{"t":0.000203125,"v":0.2},{"t":0.00021875,"v":0.17},{"t":0.000234375,"v":0.243},{"t":0.00025,"v":0.25},{"t":0.000265625,"v":0.262},{"t":0.00028125,"v":0.27},{"t":0.000296875,"v":0.285},{"t":0.0003125,"v":0.295},{"t":0.00034375,"v":0.32},{"t":0.000375,"v":0.345}
],
"pz":[
{"t":0.172,"v":8.78},{"t":0.176,"v":9.0},{"t":0.179,"v":9.15},{"t":0.182,"v":9.3},{"t":0.185,"v":9.15},{"t":0.188,"v":8.98},{"t":0.192,"v":8.88},{"t":0.196,"v":8.65},{"t":0.2,"v":8.45},{"t":0.205,"v":8.4},{"t":0.21,"v":8.42},{"t":0.217,"v":8.5},{"t":0.225,"v":8.55},{"t":0.235,"v":8.6},{"t":0.245,"v":8.7},{"t":0.255,"v":8.85},{"t":0.262,"v":8.95},{"t":0.27,"v":9.05},{"t":0.276,"v":8.85},{"t":0.282,"v":8.7},{"t":0.289,"v":9.0},{"t":0.295,"v":9.2},{"t":0.3,"v":9.3},{"t":0.306,"v":9.45},{"t":0.312,"v":9.6}
],
"pf":[{"t":0.000234,"v":0},{"t":0.299,"v":8.9}],
"ll":[
{"t":0.00035,"v":0.22},{"t":0.000478,"v":0.27},{"t":0.0006,"v":0.33},{"t":0.00075,"v":0.42},{"t":0.001,"v":0.53},{"t":0.0013,"v":0.62},{"t":0.0016,"v":0.72},{"t":0.00209,"v":0.84},{"t":0.0027,"v":0.96},{"t":0.0034,"v":1.1},{"t":0.00437,"v":1.24},{"t":0.0055,"v":1.33},{"t":0.007,"v":1.42},{"t":0.00912,"v":1.5},{"t":0.0105,"v":1.55},{"t":0.0123,"v":1.65},{"t":0.0142,"v":1.78},{"t":0.016,"v":1.82},{"t":0.0191,"v":1.85},{"t":0.023,"v":1.86},{"t":0.0276,"v":1.87},{"t":0.033,"v":1.86},{"t":0.0399,"v":1.8},{"t":0.045,"v":1.83},{"t":0.051,"v":1.9},{"t":0.0578,"v":1.96},{"t":0.068,"v":2.02},{"t":0.0834,"v":2.1},{"t":0.095,"v":2.15},{"t":0.104,"v":2.2},{"t":0.112,"v":2.08},{"t":0.121,"v":2.0},{"t":0.13,"v":2.1},{"t":0.14,"v":2.22},{"t":0.151,"v":2.3},{"t":0.162,"v":2.18},{"t":0.175,"v":2.05},{"t":0.19,"v":2.22},{"t":0.202,"v":2.36},{"t":0.215,"v":2.3},{"t":0.234,"v":2.2},{"t":0.25,"v":2.3},{"t":0.272,"v":2.41},{"t":0.29,"v":2.45},{"t":0.304,"v":2.5}
],
"le":[
{"t":0.00003125,"v":0.021},{"t":0.000046875,"v":0.01},{"t":0.0000625,"v":0.055},{"t":0.000078125,"v":0.052},{"t":0.00009375,"v":0.068},{"t":0.000109375,"v":0.118},{"t":0.000125,"v":0.061},{"t":0.000140625,"v":0.112},{"t":0.00015625,"v":0.137},{"t":0.000171875,"v":0.086},{"t":0.0001875,"v":0.168},{"t":0.000203125,"v":0.165},{"t":0.00021875,"v":0.129},{"t":0.000234375,"v":0.185},{"t":0.00025,"v":0.22},{"t":0.000265625,"v":0.2},{"t":0.00028125,"v":0.19},{"t":0.000296875,"v":0.175},{"t":0.0003125,"v":0.205},{"t":0.00034375,"v":0.19}
],
"lz":[{"t":0.29,"v":2.45},{"t":0.296,"v":2.48},{"t":0.301,"v":2.52},{"t":0.306,"v":2.47}],
"lf":[{"t":0.000118,"v":0},{"t":0.304,"v":2.52}]
},
"vconcat":[
{
"spacing":7,
"bounds":"flush",
"hconcat":[
{"width":50,"height":10,"data":{"values":[]},"mark":"point"},
{
"width":877,"height":648,
"resolve":{"axis":{"x":"independent","y":"independent"}},
"layer":[
{"data":{"name":"tg"},"mark":{"type":"line","color":"#00B520","strokeWidth":4,"clip":true},
"encoding":{
"x":{"field":"t","type":"quantitative","scale":{"type":"log","domain":[0.00002,0.628],"nice":false},
"axis":{"orient":"bottom","values":[0.0001,0.001,0.01,0.1],"tickSize":-20,"tickWidth":2.5,"domainWidth":3,"labelFontSize":32,"labelPadding":30.6,"labelExpr":"datum.value < 0.0005 ? '10⁻⁴' : datum.value < 0.005 ? '10⁻³' : datum.value < 0.05 ? '10⁻²' : '10⁻¹'","title":"Lag-Time (s)","titleFontSize":34,"titleX":443,"titleY":46.4,"titleBaseline":"top","titleAlign":"center","titleAngle":0}},
"y":{"field":"v","type":"quantitative","scale":{"type":"log","domain":[0.006,60],"nice":false},
"axis":{"orient":"left","values":[0.01,0.1,1,10],"tickSize":-20,"tickWidth":2.5,"domainWidth":3,"labelFontSize":32,"labelPadding":34,"labelExpr":"datum.value > 5 ? '10' : datum.value > 0.5 ? '1' : datum.value > 0.05 ? '10⁻¹' : '10⁻²'","title":"MSD (nm²)","titleFontSize":35,"titleX":-64.65,"titleY":324,"titleAngle":270,"titleBaseline":"bottom","titleAlign":"center"}},
"detail":{"field":"id","type":"nominal"}}},
{"data":{"name":"ty"},"mark":{"type":"line","color":"#FFD500","strokeWidth":4.2,"clip":true},
"encoding":{
"x":{"field":"t","type":"quantitative","scale":{"type":"log","domain":[0.00002,0.628],"nice":false},
"axis":{"orient":"bottom","values":[0.00003,0.00004,0.00005,0.00006,0.00007,0.00008,0.00009,0.0002,0.0003,0.0004,0.0005,0.0006,0.0007,0.0008,0.0009,0.002,0.003,0.004,0.005,0.006,0.007,0.008,0.009,0.02,0.03,0.04,0.05,0.06,0.07,0.08,0.09,0.2,0.3,0.4,0.5,0.6],"tickSize":-12,"tickWidth":2.5,"labels":false,"domain":false,"title":null}},
"y":{"field":"v","type":"quantitative","scale":{"type":"log","domain":[0.006,60],"nice":false},
"axis":{"orient":"left","values":[0.007,0.008,0.009,0.02,0.03,0.04,0.05,0.06,0.07,0.08,0.09,0.2,0.3,0.4,0.5,0.6,0.7,0.8,0.9,2,3,4,5,6,7,8,9,20,30,40,50],"tickSize":-12,"tickWidth":2.5,"labels":false,"domain":false,"title":null}},
"detail":{"field":"id","type":"nominal"}}},
{"data":{"name":"tb"},"mark":{"type":"line","color":"#0080FF","strokeWidth":5.5,"clip":true},
"encoding":{
"x":{"field":"t","type":"quantitative","scale":{"type":"log","domain":[0.00002,0.628],"nice":false},
"axis":{"orient":"top","values":[0.0001,0.001,0.01,0.1],"tickSize":-10,"tickWidth":2.5,"labels":false,"domain":true,"domainWidth":3,"title":null}},
"y":{"field":"v","type":"quantitative","scale":{"type":"log","domain":[0.006,60],"nice":false},
"axis":{"orient":"right","values":[0.01,0.1,1,10],"tickSize":-3,"tickWidth":2.5,"labels":false,"domain":false,"title":null}},
"detail":{"field":"id","type":"nominal"}}},
{"data":{"name":"tc"},"mark":{"type":"point","shape":"circle","filled":false,"size":85,"strokeWidth":1.8,"opacity":1,"clip":true},
"encoding":{
"x":{"field":"t","type":"quantitative","scale":{"type":"log","domain":[0.00002,0.628],"nice":false},
"axis":{"orient":"top","values":[0.00003,0.00004,0.00005,0.00006,0.00007,0.00008,0.00009,0.0002,0.0003,0.0004,0.0005,0.0006,0.0007,0.0008,0.0009,0.002,0.003,0.004,0.005,0.006,0.007,0.008,0.009,0.02,0.03,0.04,0.05,0.06,0.07,0.08,0.09,0.2,0.3,0.4,0.5,0.6],"tickSize":-6,"tickWidth":2.5,"labels":false,"domain":false,"title":null}},
"y":{"field":"v","type":"quantitative","scale":{"type":"log","domain":[0.006,60],"nice":false},"axis":null},
"color":{"field":"grp","type":"nominal","scale":{"domain":["g","y","b"],"range":["#00B520","#FFD500","#0080FF"]},"legend":null}}},
{"data":{"name":"td"},"mark":{"type":"point","shape":"circle","filled":true,"size":9,"opacity":1,"clip":true},
"encoding":{
"x":{"field":"t","type":"quantitative","scale":{"type":"log","domain":[0.00002,0.628],"nice":false},"axis":null},
"y":{"field":"v","type":"quantitative","scale":{"type":"log","domain":[0.006,60],"nice":false},"axis":null},
"color":{"field":"grp","type":"nominal","scale":{"domain":["g","y","b"],"range":["#00B520","#FFD500","#0080FF"]},"legend":null}}},
{"data":{"name":"tr"},"mark":{"type":"line","color":"#000","strokeWidth":1.2,"clip":true},
"encoding":{
"x":{"field":"t","type":"quantitative","scale":{"type":"log","domain":[0.00002,0.628],"nice":false},"axis":null},
"y":{"field":"v","type":"quantitative","scale":{"type":"log","domain":[0.006,60],"nice":false},"axis":null}}}
]
}
]
},
{
"spacing":6.4,
"vconcat":[
{
"spacing":4,
"hconcat":[
{
"width":448,"height":327,
"title":{"text":"Dense Liquid","fontSize":36,"offset":-46.5,"baseline":"bottom","anchor":"middle"},
"resolve":{"axis":{"x":"independent","y":"independent"}},
"layer":[
{"data":{"name":"dl"},"mark":{"type":"line","color":"#00B520","strokeWidth":4,"clip":true},
"encoding":{
"x":{"field":"t","type":"quantitative","scale":{"type":"log","domain":[0.00002,0.4],"nice":false},
"axis":{"orient":"bottom","values":[0.0001,0.001,0.01,0.1],"tickSize":-10.5,"tickWidth":2,"domainWidth":2,"labelFontSize":31,"labelPadding":22.5,"labelExpr":"datum.value < 0.0005 ? '10⁻⁴' : datum.value < 0.005 ? '10⁻³' : datum.value < 0.05 ? '10⁻²' : '10⁻¹'","title":"Time (s)","titleFontSize":32,"titleX":224,"titleY":43,"titleBaseline":"top","titleAlign":"center","titleAngle":0}},
"y":{"field":"v","type":"quantitative","scale":{"type":"linear","domain":[0,10],"nice":false,"zero":false},
"axis":{"orient":"left","values":[0,1,2,3,4,5,6,7,8,9,10],"tickSize":-11,"tickWidth":2,"domainWidth":2,"labelFontSize":31,"labelPadding":18.2,"labelExpr":"datum.value % 2 === 0 ? datum.label : ''","title":null}}}},
{"data":{"name":"de"},"mark":{"type":"point","shape":"circle","filled":false,"size":16,"strokeWidth":1,"opacity":1,"color":"#00B520","clip":true},
"encoding":{
"x":{"field":"t","type":"quantitative","scale":{"type":"log","domain":[0.00002,0.4],"nice":false},
"axis":{"orient":"bottom","values":[0.00003,0.00004,0.00005,0.00006,0.00007,0.00008,0.00009,0.0002,0.0003,0.0004,0.0005,0.0006,0.0007,0.0008,0.0009,0.002,0.003,0.004,0.005,0.006,0.007,0.008,0.009,0.02,0.03,0.04,0.05,0.06,0.07,0.08,0.09,0.2,0.3],"tickSize":-5.7,"tickWidth":2,"labels":false,"domain":false,"title":null}},
"y":{"field":"v","type":"quantitative","scale":{"type":"linear","domain":[0,10],"nice":false,"zero":false},
"axis":{"orient":"right","values":[0,1,2,3,4,5,6,7,8,9,10],"tickSize":-11,"tickWidth":2,"labels":false,"domain":true,"domainWidth":2,"title":null}}}},
{"data":{"name":"dz"},"mark":{"type":"point","shape":"circle","filled":false,"size":16,"strokeWidth":1,"opacity":1,"color":"#00B520","clip":true},
"encoding":{
"x":{"field":"t","type":"quantitative","scale":{"type":"log","domain":[0.00002,0.4],"nice":false},
"axis":{"orient":"top","values":[0.0001,0.001,0.01,0.1],"tickSize":-5,"tickWidth":2,"labels":false,"domain":true,"domainWidth":2,"title":null}},
"y":{"field":"v","type":"quantitative","scale":{"type":"linear","domain":[0,10],"nice":false,"zero":false},"axis":null}}},
{"data":{"name":"df"},"mark":{"type":"line","color":"#000","strokeWidth":2.3,"clip":true},
"encoding":{
"x":{"field":"t","type":"quantitative","scale":{"type":"log","domain":[0.00002,0.4],"nice":false},
"axis":{"orient":"top","values":[0.00003,0.00004,0.00005,0.00006,0.00007,0.00008,0.00009,0.0002,0.0003,0.0004,0.0005,0.0006,0.0007,0.0008,0.0009,0.002,0.003,0.004,0.005,0.006,0.007,0.008,0.009,0.02,0.03,0.04,0.05,0.06,0.07,0.08,0.09,0.2,0.3],"tickSize":-3,"tickWidth":2,"labels":false,"domain":false,"title":null}},
"y":{"field":"v","type":"quantitative","scale":{"type":"linear","domain":[0,10],"nice":false,"zero":false},"axis":null}}}
]
},
{
"width":437,"height":327,
"title":{"text":"Plateau","fontSize":36,"offset":-46.5,"baseline":"bottom","anchor":"middle","dx":5.5},
"resolve":{"axis":{"x":"independent","y":"independent"}},
"layer":[
{"data":{"name":"pl"},"mark":{"type":"line","color":"#FFD500","strokeWidth":4,"clip":true},
"encoding":{
"x":{"field":"t","type":"quantitative","scale":{"type":"log","domain":[0.00002,0.316],"nice":false},
"axis":{"orient":"bottom","values":[0.0001,0.001,0.01,0.1],"tickSize":-10.5,"tickWidth":2,"domainWidth":2,"labelFontSize":31,"labelPadding":22.5,"labelExpr":"datum.value < 0.0005 ? '10⁻⁴' : datum.value < 0.005 ? '10⁻³' : datum.value < 0.05 ? '10⁻²' : '10⁻¹'","title":"Time (s)","titleFontSize":32,"titleX":224,"titleY":43,"titleBaseline":"top","titleAlign":"center","titleAngle":0}},
"y":{"field":"v","type":"quantitative","scale":{"type":"linear","domain":[0,10],"nice":false,"zero":false},
"axis":{"orient":"left","values":[0,1,2,3,4,5,6,7,8,9,10],"tickSize":-11,"tickWidth":2,"domainWidth":2,"labelFontSize":31,"labelPadding":18.2,"labelExpr":"datum.value % 2 === 0 ? datum.label : ''","title":null}}}},
{"data":{"name":"pe"},"mark":{"type":"point","shape":"circle","filled":false,"size":16,"strokeWidth":1,"opacity":1,"color":"#FFD500","clip":true},
"encoding":{
"x":{"field":"t","type":"quantitative","scale":{"type":"log","domain":[0.00002,0.316],"nice":false},
"axis":{"orient":"bottom","values":[0.00003,0.00004,0.00005,0.00006,0.00007,0.00008,0.00009,0.0002,0.0003,0.0004,0.0005,0.0006,0.0007,0.0008,0.0009,0.002,0.003,0.004,0.005,0.006,0.007,0.008,0.009,0.02,0.03,0.04,0.05,0.06,0.07,0.08,0.09,0.2,0.3],"tickSize":-5.7,"tickWidth":2,"labels":false,"domain":false,"title":null}},
"y":{"field":"v","type":"quantitative","scale":{"type":"linear","domain":[0,10],"nice":false,"zero":false},"axis":null}}},
{"data":{"name":"pz"},"mark":{"type":"point","shape":"circle","filled":false,"size":16,"strokeWidth":1,"opacity":1,"color":"#FFD500","clip":true},
"encoding":{
"x":{"field":"t","type":"quantitative","scale":{"type":"log","domain":[0.00002,0.316],"nice":false},
"axis":{"orient":"top","values":[0.0001,0.001,0.01,0.1],"tickSize":-5,"tickWidth":2,"labels":false,"domain":true,"domainWidth":2,"title":null}},
"y":{"field":"v","type":"quantitative","scale":{"type":"linear","domain":[0,10],"nice":false,"zero":false},"axis":null}}},
{"data":{"name":"pf"},"mark":{"type":"line","color":"#000","strokeWidth":2.3,"clip":true},
"encoding":{
"x":{"field":"t","type":"quantitative","scale":{"type":"log","domain":[0.00002,0.316],"nice":false},
"axis":{"orient":"top","values":[0.00003,0.00004,0.00005,0.00006,0.00007,0.00008,0.00009,0.0002,0.0003,0.0004,0.0005,0.0006,0.0007,0.0008,0.0009,0.002,0.003,0.004,0.005,0.006,0.007,0.008,0.009,0.02,0.03,0.04,0.05,0.06,0.07,0.08,0.09,0.2,0.3],"tickSize":-3,"tickWidth":2,"labels":false,"domain":false,"title":null}},
"y":{"field":"v","type":"quantitative","scale":{"type":"linear","domain":[0,10],"nice":false,"zero":false},"axis":null}}}
]
}
]
},
{
"width":448,"height":327,
"title":{"text":"Logarithmic","fontSize":36,"offset":-49,"baseline":"bottom","anchor":"middle"},
"resolve":{"axis":{"x":"independent","y":"independent"}},
"layer":[
{"data":{"name":"ll"},"mark":{"type":"line","color":"#0080FF","strokeWidth":4,"clip":true},
"encoding":{
"x":{"field":"t","type":"quantitative","scale":{"type":"log","domain":[0.00002,0.4],"nice":false},
"axis":{"orient":"bottom","values":[0.0001,0.001,0.01,0.1],"tickSize":-10.5,"tickWidth":2,"domainWidth":2,"labelFontSize":31,"labelPadding":22.5,"labelExpr":"datum.value < 0.0005 ? '10⁻⁴' : datum.value < 0.005 ? '10⁻³' : datum.value < 0.05 ? '10⁻²' : '10⁻¹'","title":"Time (s)","titleFontSize":32,"titleX":224,"titleY":39,"titleBaseline":"top","titleAlign":"center","titleAngle":0}},
"y":{"field":"v","type":"quantitative","scale":{"type":"linear","domain":[0,10],"nice":false,"zero":false},
"axis":{"orient":"left","values":[0,1,2,3,4,5,6,7,8,9,10],"tickSize":-11,"tickWidth":2,"domainWidth":2,"labelFontSize":31,"labelPadding":18.2,"labelExpr":"datum.value % 2 === 0 ? datum.label : ''","title":null}}}},
{"data":{"name":"le"},"mark":{"type":"point","shape":"circle","filled":false,"size":16,"strokeWidth":1,"opacity":1,"color":"#0080FF","clip":true},
"encoding":{
"x":{"field":"t","type":"quantitative","scale":{"type":"log","domain":[0.00002,0.4],"nice":false},
"axis":{"orient":"bottom","values":[0.00003,0.00004,0.00005,0.00006,0.00007,0.00008,0.00009,0.0002,0.0003,0.0004,0.0005,0.0006,0.0007,0.0008,0.0009,0.002,0.003,0.004,0.005,0.006,0.007,0.008,0.009,0.02,0.03,0.04,0.05,0.06,0.07,0.08,0.09,0.2,0.3],"tickSize":-5.7,"tickWidth":2,"labels":false,"domain":false,"title":null}},
"y":{"field":"v","type":"quantitative","scale":{"type":"linear","domain":[0,10],"nice":false,"zero":false},
"axis":{"orient":"right","values":[0,1,2,3,4,5,6,7,8,9,10],"tickSize":-11,"tickWidth":2,"labels":false,"domain":true,"domainWidth":2,"title":null}}}},
{"data":{"name":"lz"},"mark":{"type":"point","shape":"circle","filled":false,"size":16,"strokeWidth":1,"opacity":1,"color":"#0080FF","clip":true},
"encoding":{
"x":{"field":"t","type":"quantitative","scale":{"type":"log","domain":[0.00002,0.4],"nice":false},
"axis":{"orient":"top","values":[0.0001,0.001,0.01,0.1],"tickSize":-5,"tickWidth":2,"labels":false,"domain":true,"domainWidth":2,"title":null}},
"y":{"field":"v","type":"quantitative","scale":{"type":"linear","domain":[0,10],"nice":false,"zero":false},"axis":null}}},
{"data":{"name":"lf"},"mark":{"type":"line","color":"#000","strokeWidth":2.3,"clip":true},
"encoding":{
"x":{"field":"t","type":"quantitative","scale":{"type":"log","domain":[0.00002,0.4],"nice":false},
"axis":{"orient":"top","values":[0.00003,0.00004,0.00005,0.00006,0.00007,0.00008,0.00009,0.0002,0.0003,0.0004,0.0005,0.0006,0.0007,0.0008,0.0009,0.002,0.003,0.004,0.005,0.006,0.007,0.008,0.009,0.02,0.03,0.04,0.05,0.06,0.07,0.08,0.09,0.2,0.3],"tickSize":-3,"tickWidth":2,"labels":false,"domain":false,"title":null}},
"y":{"field":"v","type":"quantitative","scale":{"type":"linear","domain":[0,10],"nice":false,"zero":false},"axis":null}}}
]
}
]
}
]
}
